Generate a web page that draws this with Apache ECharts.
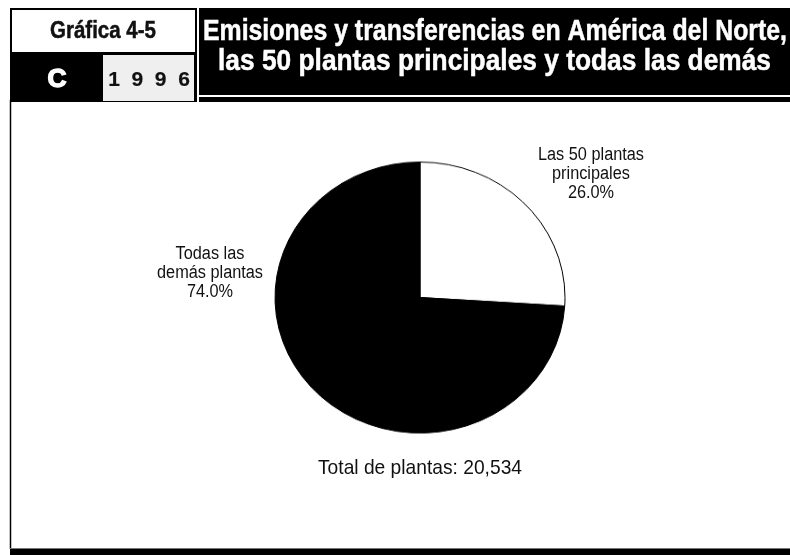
<!DOCTYPE html>
<html>
<head>
<meta charset="utf-8">
<script src="https://cdn.jsdelivr.net/npm/echarts@6/dist/echarts.min.js"></script>
<style>
  html, body { margin: 0; padding: 0; background: #fff; }
  #wrap { position: relative; width: 790px; height: 555px; overflow: hidden; }
  #main, #pie { position: absolute; left: 0; top: 0; width: 790px; height: 555px; }
  /* the pie is drawn slightly flattened (oval) */
  #pie { transform: scaleY(0.9345); transform-origin: 420px 297.5px; }
</style>
</head>
<body>
<div id="wrap">
  <div id="main"></div>
  <div id="pie"></div>
</div>
<script>
// Data
const categories = ['Las 50 plantas\nprincipales', 'Todas las\ndemás plantas'];
const shares = [26.0, 74.0];
const sliceColors = ['#ffffff', '#000000'];
const totalPlants = '20,534';
const chartNumber = 'Gráfica 4-5';
const chartLetter = 'C';
const chartYear = '1996';
const titleLines = ['Emisiones y transferencias en América del Norte,', 'las 50 plantas principales y todas las demás'];

const sans = '"Liberation Sans", Arial, sans-serif';

// Horizontal squeeze factor so a line of text fills a given width (condensed look)
const measureCtx = document.createElement('canvas').getContext('2d');
function squeeze(text, font, width) {
  measureCtx.font = font;
  return width / measureCtx.measureText(text).width;
}

// Text element, centred on (x, y), optionally squeezed horizontally; heavy adds an outline
function label(text, x, y, font, fill, sx, lineHeight, heavy) {
  const style = {
    text: text, x: 0, y: 0, textAlign: 'center', textVerticalAlign: 'middle',
    font: font, fill: fill, lineHeight: lineHeight
  };
  if (heavy) { style.stroke = fill; style.lineWidth = heavy; }
  return { type: 'text', x: x, y: y, scaleX: sx || 1, style: style };
}

const titleFont = 'bold 30px ' + sans;
const numberFont = 'bold 24px ' + sans;
const sliceFont = '18px ' + sans;
const totalFont = '21px ' + sans;

const sliceScale = squeeze('demás plantas', sliceFont, 106);
const sliceLabelPos = [[591, 174], [210, 273]];
const totalText = 'Total de plantas: ' + totalPlants;

const main = echarts.init(document.getElementById('main'), null, { renderer: 'canvas' });
main.setOption({
  animation: false,
  graphic: [
    // chart area frame
    { type: 'line', shape: { x1: 10.5, y1: 100, x2: 10.5, y2: 549 }, style: { stroke: '#000', lineWidth: 1.5 } },
    { type: 'rect', shape: { x: 10, y: 548, width: 780, height: 1 }, style: { fill: '#777' } },
    { type: 'rect', shape: { x: 10, y: 549, width: 780, height: 6 }, style: { fill: '#000' } },
    // left header box
    { type: 'rect', shape: { x: 10, y: 8, width: 187, height: 94 }, style: { fill: '#000' } },
    { type: 'rect', shape: { x: 12, y: 10, width: 183, height: 42 }, style: { fill: '#fff' } },
    { type: 'rect', shape: { x: 103, y: 55, width: 91, height: 46 }, style: { fill: '#efefef' } },
    label(chartNumber, 103, 31, numberFont, '#111', squeeze(chartNumber, numberFont, 106), null, 0.5),
    label(chartLetter, 57, 80, 'bold 25px ' + sans, '#fff', 1.05, null, 1.4),
    label(chartYear.split('').join('  '), 149, 80, 'bold 21px ' + sans, '#111', 1, null, 0.2),
    // title box
    { type: 'rect', shape: { x: 199, y: 8, width: 591, height: 87 }, style: { fill: '#000' } },
    { type: 'rect', shape: { x: 199, y: 97, width: 591, height: 5 }, style: { fill: '#000' } },
    label(titleLines[0], 495, 32, titleFont, '#fff', squeeze(titleLines[0], titleFont, 584), null, 0.5),
    label(titleLines[1], 494.5, 62, titleFont, '#fff', squeeze(titleLines[1], titleFont, 553), null, 0.5),
    // slice labels: name and share
    ...categories.map((c, i) => label(c + '\n' + shares[i].toFixed(1) + '%',
        sliceLabelPos[i][0], sliceLabelPos[i][1], sliceFont, '#111', sliceScale, 19)),
    // total
    label(totalText, 420, 468, totalFont, '#111', squeeze(totalText, totalFont, 204))
  ]
});

// Pie
const pie = echarts.init(document.getElementById('pie'), null, { renderer: 'canvas' });
pie.setOption({
  animation: false,
  backgroundColor: 'transparent',
  series: [{
    type: 'pie',
    center: [420, 297.5],
    radius: [0, 145],
    startAngle: 90,
    clockwise: true,
    label: { show: false },
    labelLine: { show: false },
    emphasis: { disabled: true },
    itemStyle: { borderColor: '#000', borderWidth: 1 },
    data: categories.map((c, i) => ({ name: c, value: shares[i], itemStyle: { color: sliceColors[i] } }))
  }]
});
</script>
</body>
</html>
